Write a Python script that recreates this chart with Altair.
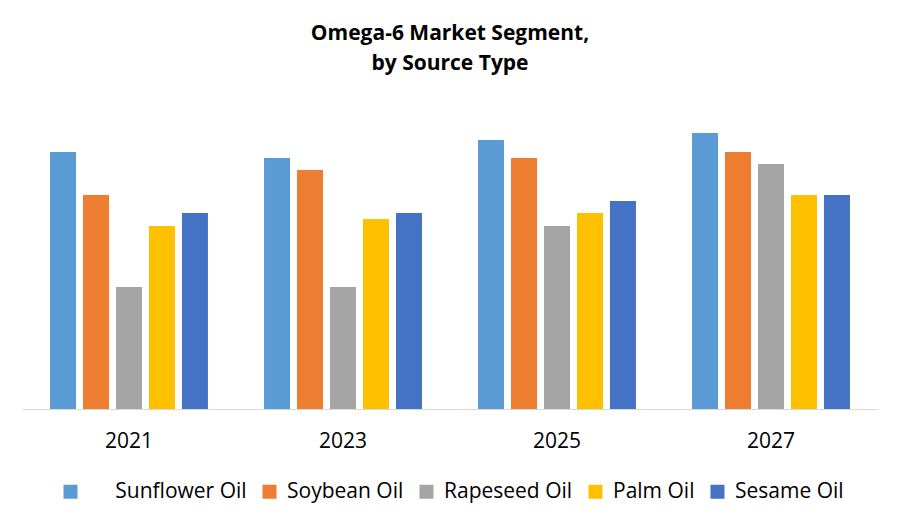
import altair as alt
import pandas as pd

years = ["2021", "2023", "2025", "2027"]
sources = ["Sunflower Oil", "Soybean Oil", "Rapeseed Oil", "Palm Oil", "Sesame Oil"]
colors = ["#5B9BD5", "#ED7D31", "#A5A5A5", "#FFC000", "#4472C4"]

sunflower = [5.14, 5.02, 5.38, 5.52]
soybean = [4.28, 4.78, 5.02, 5.14]
rapeseed = [2.44, 2.44, 3.66, 4.90]
palm = [3.66, 3.80, 3.92, 4.28]
sesame = [3.92, 3.92, 4.16, 4.28]

series = [sunflower, soybean, rapeseed, palm, sesame]
rows = []
for s, vals in zip(sources, series):
    for y, v in zip(years, vals):
        rows.append({"Year": y, "Source": s, "Value": v})
df = pd.DataFrame(rows)

FONT = "Open Sans"

label_expr = ("datum.label == 'Sunflower Oil' ? "
              "'\u200b\u00a0\u00a0\u00a0\u00a0\u00a0Sunflower Oil' : datum.label")

chart = alt.Chart(df).mark_bar().encode(
    x=alt.X("Year:N", sort=years, title=None,
            scale=alt.Scale(paddingInner=0, paddingOuter=0),
            axis=alt.Axis(labelAngle=0, ticks=False, domainColor="#D9D9D9",
                          labelFont=FONT, labelFontSize=21, labelColor="#000000",
                          labelPadding=21, grid=False)),
    xOffset=alt.XOffset("Source:N", sort=sources,
                        scale=alt.Scale(paddingInner=0.212, paddingOuter=0.85)),
    y=alt.Y("Value:Q", title=None, scale=alt.Scale(domain=[0, 6]), axis=None),
    color=alt.Color("Source:N", sort=sources,
                    scale=alt.Scale(domain=sources, range=colors),
                    legend=alt.Legend(title=None, orient="none", direction="horizontal",
                                      legendX=38, legendY=372,
                                      symbolType="square", symbolSize=196,
                                      symbolStrokeWidth=0, symbolOpacity=1,
                                      labelFont=FONT, labelFontSize=21, labelColor="#000000",
                                      labelOffset=7, columnPadding=12,
                                      labelLimit=400,
                                      labelExpr=label_expr)),
).properties(
    width=856,
    height=300,
    title=alt.Title(["Omega-6 Market Segment,", "by Source Type"],
                    font=FONT, fontSize=21, fontWeight="bold", color="#000000",
                    anchor="middle", offset=35, lineHeight=30),
    autosize=alt.AutoSizeParams(type="none"),
    padding={"left": 14, "top": 101, "right": 8, "bottom": 110},
).configure_view(stroke=None)

chart.save("out.html", embed_options={"renderer": "svg", "actions": False})
